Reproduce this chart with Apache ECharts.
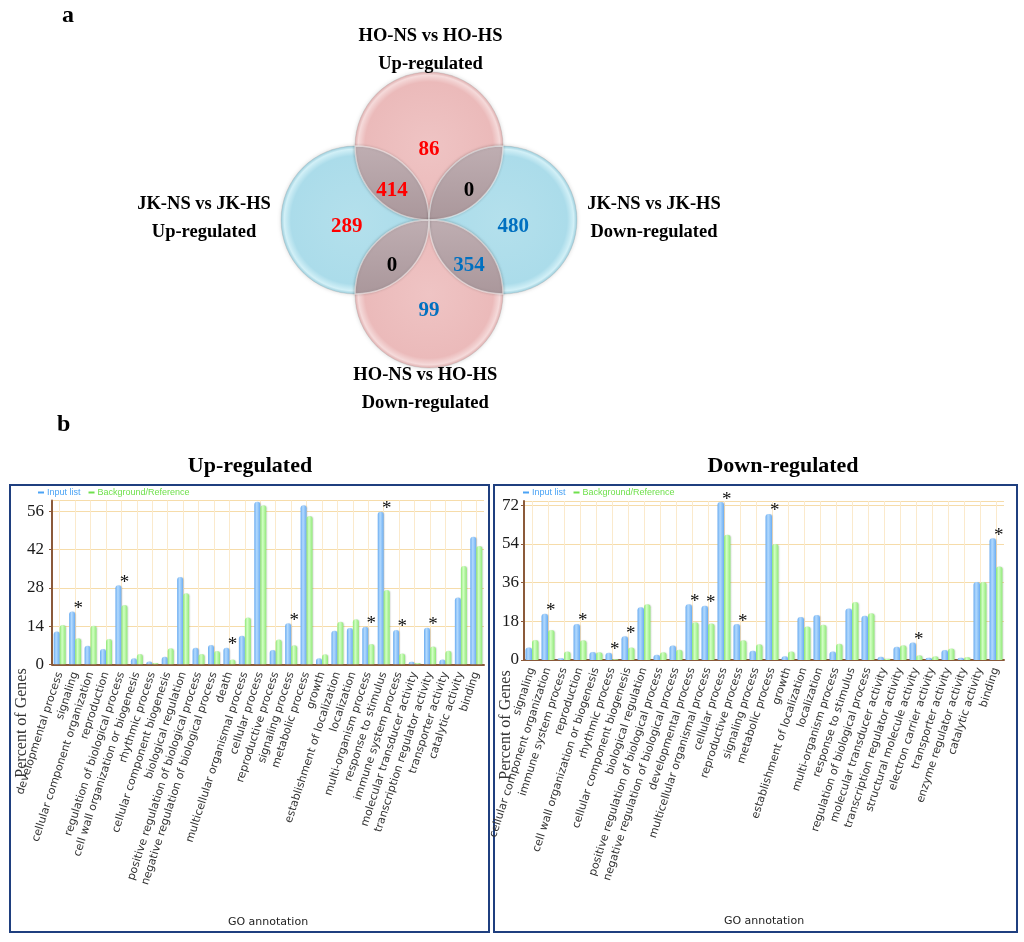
<!DOCTYPE html>
<html><head><meta charset="utf-8">
<script src="https://cdn.jsdelivr.net/npm/echarts@6/dist/echarts.min.js"></script>
<style>html,body{margin:0;padding:0;background:#fff}#c{width:1024px;height:942px}</style>
</head><body><div id="c"></div>
<script>
// ---------------- DATA ----------------
const vennSetLabels = ['JK-NS vs JK-HS\nUp-regulated', 'HO-NS vs HO-HS\nUp-regulated', 'JK-NS vs JK-HS\nDown-regulated', 'HO-NS vs HO-HS\nDown-regulated'];
// regions: JKup only, HOup only, JKdown only, HOdown only, JKup&HOup, HOup&JKdown, JKdown&HOdown, HOdown&JKup
const vennRegionCounts = [289, 86, 480, 99, 414, 0, 354, 0];

const upCategories = ['developmental process','signaling','cellular component organization','reproduction','regulation of biological process','cell wall organization or biogenesis','rhythmic process','cellular component biogenesis','biological regulation','positive regulation of biological process','negative regulation of biological process','death','multicellular organismal process','cellular process','reproductive process','signaling process','metabolic process','growth','establishment of localization','localization','multi-organism process','response to stimulus','immune system process','molecular transducer activity','transcription regulator activity','transporter activity','catalytic activity','binding'];
const upInput = [12, 19.3, 6.8, 5.6, 29, 2.2, 1, 2.8, 32, 6.1, 7.1, 6.1, 10.5, 59.5, 5.2, 15, 58.3, 2.2, 12.3, 13.3, 13.8, 55.9, 12.6, 0.9, 13.4, 1.8, 24.5, 46.7];
const upBackground = [14.4, 9.5, 14.1, 9.3, 21.7, 3.8, 0.5, 5.9, 26, 3.8, 4.9, 1.8, 17.1, 58.3, 9.1, 7, 54.3, 3.7, 15.6, 16.5, 7.4, 27.2, 4, 0.5, 6.5, 5, 36, 43.3];
const upStarred = ['signaling','regulation of biological process','death','signaling process','multi-organism process','response to stimulus','immune system process','transcription regulator activity'];
const upTicks = [0, 14, 28, 42, 56];

const downCategories = ['signaling','cellular component organization','immune system process','reproduction','cell wall organization or biogenesis','rhythmic process','cellular component biogenesis','biological regulation','positive regulation of biological process','negative regulation of biological process','developmental process','multicellular organismal process','cellular process','reproductive process','signaling process','metabolic process','growth','establishment of localization','localization','multi-organism process','response to stimulus','regulation of biological process','molecular transducer activity','transcription regulator activity','structural molecule activity','electron carrier activity','transporter activity','enzyme regulator activity','catalytic activity','binding'];
const downInput = [5.8, 21.5, 0.8, 16.8, 3.7, 3.4, 11, 24.6, 2.5, 6.7, 26, 25.2, 73.5, 16.7, 4.3, 68, 1.8, 20, 21, 4, 24, 20.6, 1.5, 6.2, 8.2, 1.1, 4.7, 1.1, 36.3, 56.7];
const downBackground = [9.3, 14, 3.9, 9.2, 3.6, 0.3, 5.8, 26, 3.6, 4.8, 17.6, 17, 58.3, 9.2, 7.3, 54, 4, 15.6, 16.4, 7.6, 27, 21.7, 0.6, 6.9, 2.2, 1.7, 5.3, 1.4, 36.3, 43.5];
const downStarred = ['cellular component organization','reproduction','rhythmic process','cellular component biogenesis','developmental process','multicellular organismal process','cellular process','reproductive process','metabolic process','structural molecule activity','binding'];
const downTicks = [0, 18, 36, 54, 72];

// ---------------- LAYOUT (venn, unit = circle radius) ----------------
const setCenters = [[-1, 0], [0, 1], [1, 0], [0, -1]];
const setKinds = ['blue', 'pink', 'blue', 'pink'];
const setLabelAnchors = [[-3.04, 0.02], [0.02, 2.30], [3.04, 0.02], [-0.05, -2.29]];
const regionAnchors = [[-1.11, -0.09], [0, 0.95], [1.14, -0.09], [0, -1.23], [-0.5, 0.4], [0.54, 0.4], [0.54, -0.61], [-0.5, -0.61]];
const regionColors = ['#ff0000', '#ff0000', '#0070c0', '#0070c0', '#ff0000', '#000000', '#0070c0', '#000000'];
const lensPairs = [[0, 1], [1, 2], [2, 3], [3, 0]];

const chart = echarts.init(document.getElementById('c'));
const G = echarts.graphic;

function circleFill(kind) {
  if (kind === 'pink') return new G.RadialGradient(0.5, 0.5, 0.5, [
    {offset: 0, color: '#efc4c4'}, {offset: 0.86, color: '#ebbaba'},
    {offset: 0.95, color: '#f5dada'}, {offset: 1, color: '#dca8a8'}]);
  return new G.RadialGradient(0.5, 0.5, 0.5, [
    {offset: 0, color: '#b4e0ec'}, {offset: 0.86, color: '#abdcea'},
    {offset: 0.95, color: '#d2f0f7'}, {offset: 1, color: '#92c8d8'}]);
}

function renderCircle(params, api) {
  const c = api.coord([api.value(0), api.value(1)]);
  const r = api.size([1, 1])[0];
  const kind = setKinds[api.value(2)];
  return {type: 'circle', shape: {cx: c[0], cy: c[1], r: r},
    style: {fill: circleFill(kind), stroke: 'rgba(150,150,150,0.25)', lineWidth: 1,
      shadowBlur: 4, shadowColor: 'rgba(0,0,0,0.15)'}};
}

function renderLens(params, api) {
  const A = setCenters[api.value(0)], B = setCenters[api.value(1)];
  const dx = B[0] - A[0], dy = B[1] - A[1];
  const d = Math.sqrt(dx * dx + dy * dy);
  const h = Math.sqrt(1 - (d / 2) * (d / 2));
  const mx = (A[0] + B[0]) / 2, my = (A[1] + B[1]) / 2;
  const px = -dy / d * h, py = dx / d * h;
  const p1 = api.coord([mx + px, my + py]);
  const p2 = api.coord([mx - px, my - py]);
  const r = api.size([1, 1])[0];
  const path = 'M' + p1[0] + ' ' + p1[1] + ' A' + r + ' ' + r + ' 0 0 1 ' + p2[0] + ' ' + p2[1] +
    ' A' + r + ' ' + r + ' 0 0 1 ' + p1[0] + ' ' + p1[1] + ' Z';
  return {type: 'path', shape: {pathData: path},
    style: {fill: new G.LinearGradient(0, 0, 0, 1, [{offset: 0, color: '#bfaeb2'}, {offset: 1, color: '#aa979b'}]),
      stroke: 'rgba(255,255,255,0.5)', lineWidth: 1.5, shadowBlur: 3, shadowColor: 'rgba(0,0,0,0.22)'}};
}

function renderText(list, colors, font, lineHeight) {
  return function (params, api) {
    const i = api.value(2);
    const c = api.coord([api.value(0), api.value(1)]);
    return {type: 'text', x: c[0], y: c[1],
      style: {text: String(list[i]), fill: colors ? colors[i] : '#000', font: font,
        align: 'center', verticalAlign: 'middle', lineHeight: lineHeight}};
  };
}

const blueFill = new G.LinearGradient(0, 0, 1, 0, [
  {offset: 0, color: '#67aaf0'}, {offset: 0.4, color: '#b3dafe'}, {offset: 1, color: '#6badf2'}]);
const greenFill = new G.LinearGradient(0, 0, 1, 0, [
  {offset: 0, color: '#8ce673'}, {offset: 0.4, color: '#d2ffc4'}, {offset: 1, color: '#90e878'}]);
const brown = '#8b5a3a';

function catAxis(gridIndex, cats, gap) {
  return {type: 'category', gridIndex: gridIndex, data: cats,
    axisLine: {lineStyle: {color: brown, width: 2}},
    axisTick: {alignWithLabel: true, length: 5, lineStyle: {color: brown}},
    axisLabel: {interval: 0, rotate: 72, margin: 8, fontFamily: 'DejaVu Sans', fontSize: 11, color: '#333'},
    splitLine: {show: true, alignWithLabel: true, lineStyle: {color: '#fbeacc', width: 1}},
    name: 'GO annotation', nameLocation: 'middle', nameGap: gap,
    nameTextStyle: {fontFamily: 'DejaVu Sans', fontSize: 11, color: '#222'}};
}
function valAxis(gridIndex, ticks, max, margin) {
  return {type: 'value', gridIndex: gridIndex, min: ticks[0], max: max, interval: ticks[1] - ticks[0],
    axisLine: {show: true, lineStyle: {color: brown, width: 2}},
    axisTick: {show: true, length: 3, lineStyle: {color: brown}},
    axisLabel: {showMaxLabel: false, margin: margin, fontFamily: 'Liberation Serif', fontSize: 17, color: '#1a1a1a'},
    splitLine: {lineStyle: {color: '#f6dcaa', width: 1}}};
}
function starLabel(list) {
  return {show: true, position: 'top', distance: 0, offset: [6, 7],
    formatter: p => list.includes(p.name) ? '*' : '',
    fontFamily: 'Liberation Serif', fontSize: 19, color: '#111'};
}
const barItem = f => ({color: f, borderRadius: [3, 3, 0, 0], shadowColor: 'rgba(0,0,0,0.12)', shadowOffsetX: 1, shadowBlur: 1});

function legendFor(left) {
  return {left: left, top: 488, padding: 0, itemGap: 8, itemWidth: 6, itemHeight: 2, icon: 'rect',
    textStyle: {fontFamily: 'Liberation Sans', fontSize: 9, padding: [0, 0, 0, -2]},
    data: [{name: 'Input list', itemStyle: {color: '#4aa3f5'}, textStyle: {color: '#4aa3f5'}},
           {name: 'Background/Reference', itemStyle: {color: '#6fe04c'}, textStyle: {color: '#6fe04c'}}]};
}

const option = {
  animation: false,
  backgroundColor: '#ffffff',
  legend: [legendFor(38), legendFor(523)],
  grid: [
    {left: 170, top: 12.8, width: 518, height: 414.4},
    {left: 52, top: 500.5, width: 432, height: 163.8},
    {left: 524, top: 501, width: 480, height: 159}
  ],
  xAxis: [
    {type: 'value', gridIndex: 0, min: -3.5, max: 3.5, show: false},
    catAxis(1, upCategories, 252),
    catAxis(2, downCategories, 256)
  ],
  yAxis: [
    {type: 'value', gridIndex: 0, min: -2.8, max: 2.8, show: false},
    valAxis(1, upTicks, 60, 8),
    valAxis(2, downTicks, 74, 5)
  ],
  series: [
    {type: 'custom', name: 'sets', xAxisIndex: 0, yAxisIndex: 0, renderItem: renderCircle, clip: false,
      data: setCenters.map((c, i) => [c[0], c[1], i])},
    {type: 'custom', name: 'overlaps', xAxisIndex: 0, yAxisIndex: 0, renderItem: renderLens, clip: false,
      data: lensPairs},
    {type: 'custom', name: 'counts', xAxisIndex: 0, yAxisIndex: 0, clip: false,
      renderItem: renderText(vennRegionCounts, regionColors, 'bold 21px "Liberation Serif"', 24),
      data: regionAnchors.map((c, i) => [c[0], c[1], i])},
    {type: 'custom', name: 'setLabels', xAxisIndex: 0, yAxisIndex: 0, clip: false,
      renderItem: renderText(vennSetLabels, null, 'bold 18.5px "Liberation Serif"', 28),
      data: setLabelAnchors.map((c, i) => [c[0], c[1], i])},

    {type: 'bar', name: 'Input list', xAxisIndex: 1, yAxisIndex: 1, data: upInput, barWidth: 6, barGap: '0%',
      itemStyle: barItem(blueFill), label: starLabel(upStarred)},
    {type: 'bar', name: 'Background/Reference', xAxisIndex: 1, yAxisIndex: 1, data: upBackground, barWidth: 6, barGap: '0%',
      itemStyle: barItem(greenFill)},
    {type: 'bar', name: 'Input list', xAxisIndex: 2, yAxisIndex: 2, data: downInput, barWidth: 6.5, barGap: '0%',
      itemStyle: barItem(blueFill), label: starLabel(downStarred)},
    {type: 'bar', name: 'Background/Reference', xAxisIndex: 2, yAxisIndex: 2, data: downBackground, barWidth: 6.5, barGap: '0%',
      itemStyle: barItem(greenFill)}
  ],
  graphic: [
    {type: 'rect', shape: {x: 10, y: 485, width: 479, height: 447}, style: {fill: 'none', stroke: '#1f3f7f', lineWidth: 2}, silent: true},
    {type: 'rect', shape: {x: 494, y: 485, width: 523, height: 447}, style: {fill: 'none', stroke: '#1f3f7f', lineWidth: 2}, silent: true},
    {type: 'text', x: 62, y: 16, style: {text: 'a', font: 'bold 24px "Liberation Serif"', fill: '#000', align: 'left', verticalAlign: 'middle'}},
    {type: 'text', x: 57, y: 425, style: {text: 'b', font: 'bold 24px "Liberation Serif"', fill: '#000', align: 'left', verticalAlign: 'middle'}},
    {type: 'text', x: 250, y: 466, style: {text: 'Up-regulated', font: 'bold 22px "Liberation Serif"', fill: '#000', align: 'center', verticalAlign: 'middle'}},
    {type: 'text', x: 783, y: 466, style: {text: 'Down-regulated', font: 'bold 22px "Liberation Serif"', fill: '#000', align: 'center', verticalAlign: 'middle'}},
    {type: 'text', x: 22, y: 723, rotation: Math.PI / 2, style: {text: 'Percent of Genes', font: '16px "Liberation Serif"', fill: '#333', align: 'center', verticalAlign: 'middle'}},
    {type: 'text', x: 506, y: 725, rotation: Math.PI / 2, style: {text: 'Percent of Genes', font: '16px "Liberation Serif"', fill: '#333', align: 'center', verticalAlign: 'middle'}}
  ]
};
chart.setOption(option);
</script>
</body></html>
